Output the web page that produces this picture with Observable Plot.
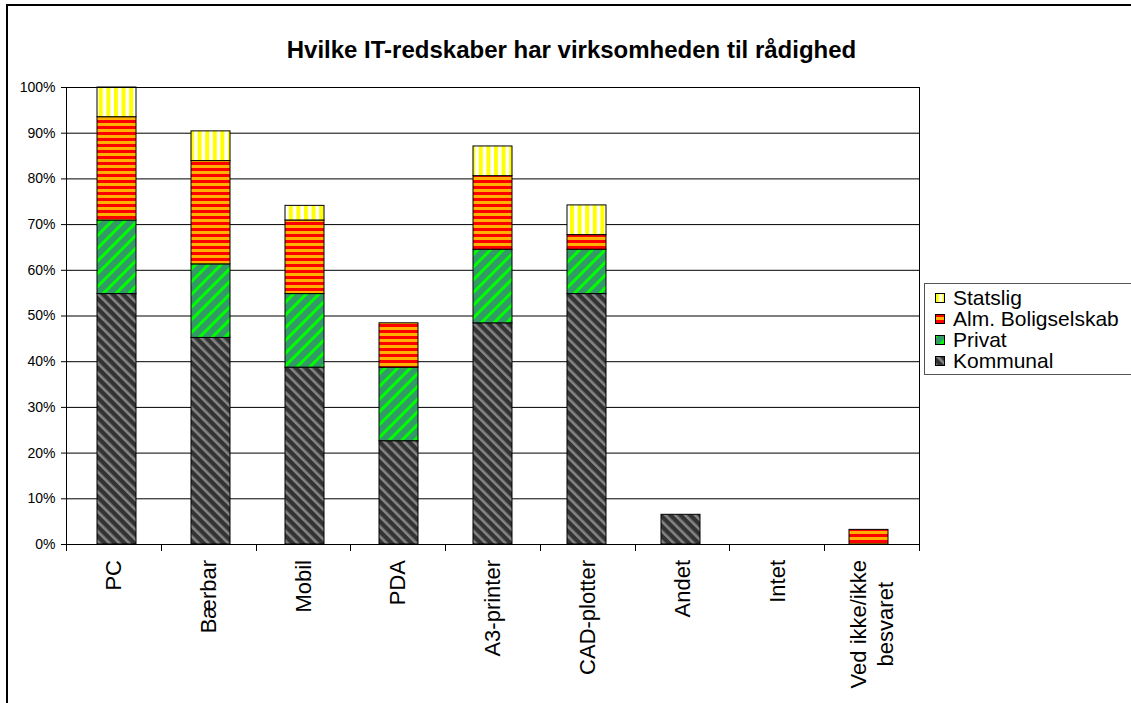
<!DOCTYPE html>
<html><head><meta charset="utf-8">
<script src="https://cdn.jsdelivr.net/npm/d3@7"></script>
<script src="https://cdn.jsdelivr.net/npm/@observablehq/plot@0.6"></script>
<style>
body{margin:0;background:#fff;font-family:Arial,"Liberation Sans",sans-serif;}
#wrap{position:relative;width:1131px;height:703px;overflow:hidden;background:#fff;}
#chart{position:absolute;left:0;top:0;}
#frame{position:absolute;left:6px;top:4px;width:1200px;height:800px;border-top:2px solid #000;border-left:2px solid #000;}
#title{position:absolute;left:6px;width:1131px;top:38px;text-align:center;font-weight:bold;font-size:24px;line-height:24px;white-space:nowrap;}
#legend{position:absolute;left:924px;top:283px;width:230px;border:1px solid #555;background:#fff;padding:3px 0 3px 10px;font-size:21px;}
#legend .row{display:flex;align-items:center;white-space:nowrap;height:21px;overflow:visible;}
#legend .row span{display:block;line-height:19px;height:19px;}
#legend svg{margin-right:8px;flex:none;}
</style></head><body>
<svg width="0" height="0" style="position:absolute"><defs>
  <pattern id="pKom" patternUnits="userSpaceOnUse" width="7" height="7" patternTransform="rotate(-45)">
    <rect width="7" height="7" fill="#333333"/><rect width="2.6" height="7" fill="#858585"/>
  </pattern>
  <pattern id="pPriv" patternUnits="userSpaceOnUse" width="9" height="9" patternTransform="rotate(45)">
    <rect width="9" height="9" fill="#339966"/><rect width="3" height="9" fill="#00FF00"/>
  </pattern>
  <pattern id="pAlm" patternUnits="userSpaceOnUse" width="6" height="6">
    <rect width="6" height="6" fill="#FFB000"/><rect width="6" height="3" fill="#FF0000"/>
  </pattern>
  <pattern id="pStat" patternUnits="userSpaceOnUse" width="7.6" height="8">
    <rect width="7.6" height="8" fill="#FFFFFF"/><rect width="4" height="8" fill="#FFFF00"/>
  </pattern>
</defs></svg>
<div id="wrap"><div id="chart"></div><div id="frame"></div><div id="title"></div><div id="legend"></div></div>
<script>
const titleText = "Hvilke IT-redskaber har virksomheden til rådighed";
const categories = ["PC","Bærbar","Mobil","PDA","A3-printer","CAD-plotter","Andet","Intet","Ved ikke/ikke\nbesvaret"];
const series = ["Kommunal","Privat","Alm. Boligselskab","Statslig"];
const kommunal = [54.8, 45.2, 38.7, 22.6, 48.4, 54.8, 6.5, 0, 0];
const privat   = [16.1, 16.1, 16.1, 16.1, 16.1, 9.7, 0, 0, 0];
const alm      = [22.6, 22.6, 16.1, 9.7, 16.1, 3.2, 0, 0, 3.2];
const statslig = [6.5, 6.5, 3.2, 0, 6.5, 6.5, 0, 0, 0];
const yTicks = [0,10,20,30,40,50,60,70,80,90,100];
const patterns = ["url(#pKom)","url(#pPriv)","url(#pAlm)","url(#pStat)"];
const legendOrder = ["Statslig","Alm. Boligselskab","Privat","Kommunal"];

const seriesValues = [kommunal, privat, alm, statslig];
const data = [];
categories.forEach((c, i) => {
  series.forEach((s, j) => {
    const v = seriesValues[j][i];
    if (v > 0) data.push({category: c, series: s, value: v});
  });
});

// tick marks at the boundaries between categories (as in the original)
const boundaryTicks = (index, scales, values, dimensions) => {
  const g = d3.create("svg:g").attr("stroke", "#000").attr("stroke-width", 1);
  const left = dimensions.marginLeft, right = dimensions.width - dimensions.marginRight;
  const step = (right - left) / categories.length;
  const y0 = dimensions.height - dimensions.marginBottom;
  for (let k = 0; k <= categories.length; k++) {
    const xx = Math.round(left + k * step) + 0.5;
    g.append("line").attr("x1", xx).attr("x2", xx).attr("y1", y0).attr("y2", y0 + 7);
  }
  return g.node();
};

// rotated category labels; multi-line labels get centred lines afterwards
const xLabels = (index, scales, values, dimensions) => {
  const g = d3.create("svg:g").attr("font-size", 22).attr("fill", "#000")
    .attr("font-family", "Arial, 'Liberation Sans', sans-serif");
  const left = dimensions.marginLeft, right = dimensions.width - dimensions.marginRight;
  const step = (right - left) / categories.length;
  const y0 = dimensions.height - dimensions.marginBottom + 16;
  categories.forEach((c, i) => {
    const cx = left + step * (i + 0.5);
    const lines = c.split("\n");
    const t = g.append("text").attr("class", "xlab")
      .attr("transform", `translate(${cx},${y0}) rotate(-90)`)
      .attr("text-anchor", "end");
    lines.forEach((ln, k) => t.append("tspan").attr("x", 0)
      .attr("y", ((k - (lines.length - 1) / 2) * 1.2 + 0.35) + "em").text(ln));
  });
  return g.node();
};

const chart = Plot.plot({
  width: 1131, height: 703,
  marginLeft: 66, marginRight: 212, marginTop: 87, marginBottom: 159,
  style: {fontFamily: "Arial, 'Liberation Sans', sans-serif", background: "transparent", color: "#000"},
  x: {domain: categories, paddingInner: 0.59, paddingOuter: 0.295, label: null, axis: null},
  y: {domain: [0, 100], label: null},
  color: {domain: series, range: patterns},
  marks: [
    Plot.gridY(yTicks, {stroke: "#000", strokeOpacity: 1, strokeWidth: 1}),
    Plot.barY(data, Plot.stackY({x: "category", y: "value", z: "series", fill: "series", stroke: "#000", strokeWidth: 1})),
    Plot.frame({stroke: "#000"}),
    Plot.axisY(yTicks, {tickFormat: d => d + "%", tickSize: 5, tickPadding: 6, fontSize: 14, label: null}),
    boundaryTicks,
    xLabels
  ]
});
document.getElementById("chart").appendChild(chart);
document.getElementById("title").textContent = titleText;

// centre the lines of multi-line category labels
document.querySelectorAll("text.xlab").forEach(t => {
  const spans = t.querySelectorAll("tspan");
  if (spans.length < 2) return;
  let maxLen = 0;
  spans.forEach(s => { maxLen = Math.max(maxLen, s.getComputedTextLength()); });
  t.setAttribute("text-anchor", "middle");
  spans.forEach(s => s.setAttribute("x", -maxLen / 2));
});

const legend = d3.select("#legend");
legendOrder.forEach(s => {
  const row = legend.append("div").attr("class", "row");
  const sw = row.append("svg").attr("width", 10).attr("height", 10);
  sw.append("rect").attr("x", 0.5).attr("y", 0.5).attr("width", 9).attr("height", 9)
    .attr("fill", patterns[series.indexOf(s)]).attr("stroke", "#000");
  row.append("span").text(s);
});
</script>
</body></html>
